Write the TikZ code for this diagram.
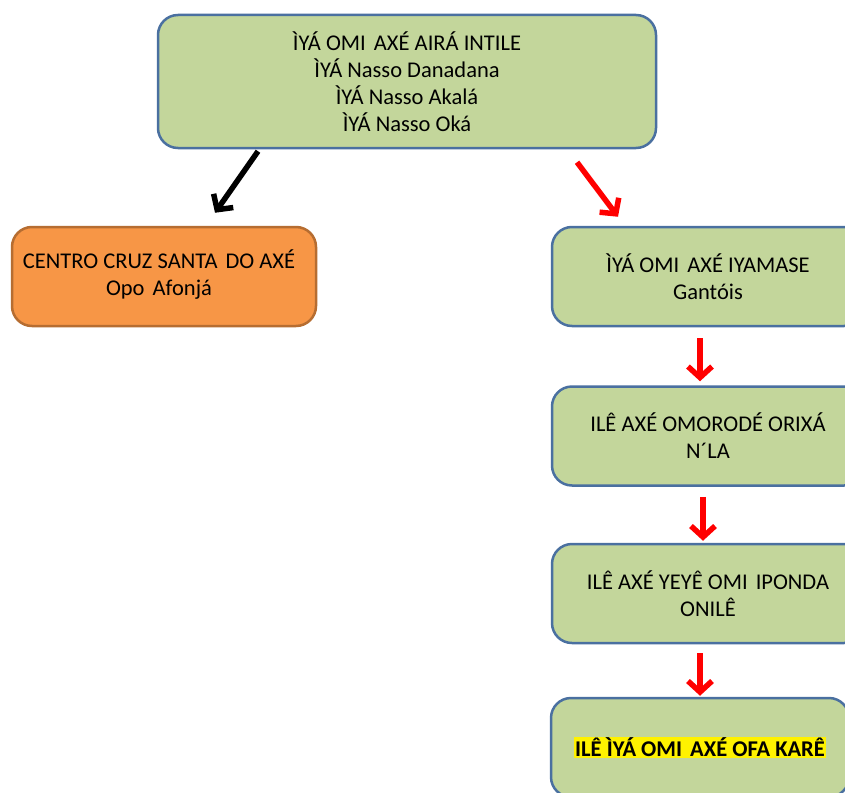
\documentclass[tikz,border=0pt]{standalone}
\usepackage{fontspec}
\setmainfont{Carlito}
\usetikzlibrary{arrows.meta}
\definecolor{boxgreen}{RGB}{195,214,155}
\definecolor{boxblue}{RGB}{74,112,160}
\definecolor{boxorange}{RGB}{247,150,70}
\definecolor{boxbrown}{RGB}{182,109,49}
\definecolor{arrowred}{RGB}{255,0,0}
\newcommand\gap{\hspace{3pt} }
\tikzset{
  box/.style={draw=boxblue, fill=boxgreen, line width=2.5pt, rounded corners=20pt,
    align=center, inner sep=0pt, font=\fontsize{22.5}{27}\selectfont},
  orangebox/.style={box, draw=boxbrown, fill=boxorange},
  redarrow/.style={draw=arrowred, line width=5.5pt, -{Straight Barb[length=11pt,width=24pt]}},
  blackarrow/.style={redarrow, draw=black}
}
\begin{document}
\begin{tikzpicture}[x=1pt,y=1pt]
      \clip (0,0) rectangle (845,-792);
      \fill[white] (0,0) rectangle (845,-792);
      \draw
        (407,-81.5) node[box, minimum width=498, minimum height=133] (iya)
          {ÌYÁ OMI\gap AXÉ AIRÁ INTILE\\ÌYÁ Nasso Danadana\\ÌYÁ Nasso Akalá\\ÌYÁ Nasso Oká}
        (164,-276.5) node[orangebox, minimum width=304, minimum height=99] (cruz)
          {\raisebox{4pt}{\begin{tabular}{@{}c@{}}CENTRO CRUZ SANTA\gap DO AXÉ\\Opo\gap Afonjá\end{tabular}}\hspace{10pt}}
        (708,-276.5) node[box, minimum width=312, minimum height=99] (gantois)
          {ÌYÁ OMI\gap AXÉ IYAMASE\\Gantóis}
        (708,-436) node[box, minimum width=312, minimum height=99] (omorode)
          {ILÊ AXÉ OMORODÉ ORIXÁ\\N´LA}
        (708,-593.5) node[box, minimum width=312, minimum height=99] (yeye)
          {ILÊ AXÉ YEYÊ OMI\gap IPONDA\\ONILÊ}
        (700,-747.5) node[box, minimum width=298, minimum height=99] (ofa)
          {\setlength\fboxsep{1pt}\colorbox{yellow}{\textbf{ILÊ ÌYÁ OMI\gap AXÉ OFA KARÊ}}};
      % arrows
      \begin{scope}
        \draw[blackarrow] ([xshift=-149pt,yshift=-2pt]iya.south) to ([xshift=51pt,yshift=13pt]cruz.north);
        \draw[redarrow] ([xshift=170pt,yshift=-13pt]iya.south) to ([xshift=-90pt,yshift=9pt]gantois.north);
        \draw[redarrow] ([xshift=-8pt,yshift=-11pt]gantois.south) to ([xshift=-8pt,yshift=4pt]omorode.north);
        \draw[redarrow] ([xshift=-5pt,yshift=-10pt]omorode.south) to ([xshift=-5pt,yshift=2pt]yeye.north);
        \draw[redarrow] ([xshift=-8pt,yshift=-9pt]yeye.south) to ([yshift=1pt]ofa.north);
      \end{scope}
    \end{tikzpicture}
\end{document}
